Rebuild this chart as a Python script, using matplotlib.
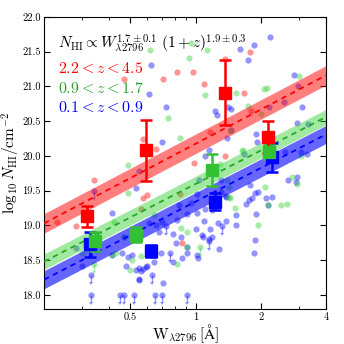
import numpy as np
import matplotlib
matplotlib.use('Agg')
import matplotlib.pyplot as plt
from matplotlib.ticker import FixedLocator, FixedFormatter, NullFormatter

plt.rcParams['font.family'] = 'serif'
plt.rcParams['font.serif'] = ['cmr10', 'DejaVu Serif']
plt.rcParams['mathtext.fontset'] = 'cm'
plt.rcParams['axes.unicode_minus'] = False

########################################################################################################################
# data
########################################################################################################################
red_pts_w = [0.23, 0.28, 0.34, 0.466, 0.71, 0.82, 0.57, 0.66, 0.57, 0.60, 0.56, 0.85, 0.98, 1.36, 1.37, 0.97,
             1.09, 1.67, 1.79, 1.81, 1.17, 0.87]
red_pts_n = [19.05, 18.99, 19.65, 21.10, 21.10, 21.20, 20.24, 20.10, 19.40, 19.44, 19.24, 19.45, 19.90, 20.00, 21.40,
             21.20, 21.04, 20.90, 21.50, 20.64, 20.35, 18.75]

green_pts_w = [0.616, 0.75, 0.95, 1.13, 0.93, 1.11, 1.54, 2.07, 2.14, 3.0, 1.75, 0.85, 1.65, 1.44, 2.0, 1.30, 1.39,
               1.42, 1.44, 0.486, 0.49, 0.43, 0.30, 0.51, 0.50, 0.41, 0.64, 0.86, 0.91, 0.91, 0.56, 0.82, 2.09, 2.77,
               2.93, 2.16, 2.48, 2.64, 1.52, 1.94, 1.43, 1.63, 3.05, 0.47, 0.42]
green_pts_n = [21.52, 20.55, 21.63, 21.52, 21.41, 20.87, 20.90, 20.96, 20.98, 21.15, 20.72, 20.26, 20.08, 20.36, 20.60,
               19.89, 19.65, 19.55, 19.39, 19.87, 19.46, 18.60, 18.61, 18.51, 18.36, 18.58, 19.15, 18.97, 18.90, 18.69,
               18.56, 18.45, 19.55, 19.70, 19.60, 19.30, 19.29, 19.31, 19.25, 19.00, 19.41, 20.07, 20.00, 18.83, 19.05]

blue_pts_w = [0.625, 0.61, 0.73, 0.70, 1.61, 1.86, 2.2, 1.75, 2.84, 2.97, 2.57, 2.17, 3.1, 1.23, 1.41, 1.46, 1.26,
              1.15, 1.10, 1.39, 1.46, 0.55, 1.04, 1.31, 1.01, 1.38, 0.84, 0.95, 0.53, 0.41, 0.47, 0.28, 0.30, 0.49,
              0.48, 0.53, 0.57, 0.59, 0.55, 0.46, 0.61, 0.66, 0.70, 0.82, 0.91, 1.01, 1.09, 1.27, 1.38, 1.0, 1.16,
              0.68, 0.79, 0.86, 1.08, 1.19, 1.28, 0.81, 0.91, 0.87, 1.01, 1.03, 0.69, 0.64, 0.79, 0.55, 0.60, 0.56,
              0.55, 0.71, 1.78, 1.94, 2.66, 2.95, 1.83, 1.77, 1.70, 2.11, 2.24, 1.90, 1.54, 1.54, 1.38, 1.31, 1.10,
              1.19, 1.88, 1.85, 1.07, 1.15, 1.89, 1.93, 1.68, 2.93, 3.3, 3.05, 3.26, 2.59, 2.9, 1.88, 0.51, 0.91,
              0.41, 2.16]
blue_pts_n = [21.31, 20.89, 20.70, 20.20, 21.54, 21.59, 21.71, 21.38, 21.16, 21.00, 20.78, 20.70, 20.70, 20.64, 20.70,
              20.67, 20.59, 20.08, 20.00, 20.26, 20.37, 19.79, 19.66, 19.65, 19.45, 19.42, 19.29, 19.32, 19.54, 19.18,
              18.84, 18.67, 18.41, 18.55, 18.42, 18.36, 18.37, 18.40, 18.23, 18.60, 19.04, 19.00, 19.05, 19.08, 19.16,
              19.18, 19.07, 19.04, 19.07, 18.95, 18.95, 18.90, 18.88, 18.84, 18.84, 18.84, 18.66, 18.75, 18.60, 18.53,
              18.57, 18.53, 18.60, 18.47, 18.47, 18.39, 18.41, 18.34, 18.22, 18.17, 19.58, 19.48, 19.65, 19.70, 19.40,
              19.36, 19.31, 19.40, 19.41, 19.17, 19.15, 19.00, 19.41, 19.48, 19.24, 19.22, 18.79, 18.60, 18.86, 18.81,
              20.32, 20.20, 20.03, 20.47, 20.46, 20.06, 20.03, 20.06, 19.63, 19.46, 18.58, 18.69, 18.58, 19.30]

# upper limits
blue_lim_w = [0.34, 0.33, 0.33, 0.45, 0.47, 0.52, 0.65, 0.70, 0.91, 0.63, 0.73, 1.33, 0.76, 1.15]
blue_lim_n = [19.50, 18.29, 18.00, 18.00, 18.00, 18.00, 18.00, 18.00, 18.00, 18.29, 18.99, 18.99, 18.60, 18.77]
green_lim_w = [0.34, 1.05]
green_lim_n = [18.44, 18.69]

# binned values
red_bin_w = [0.316, 0.59, 1.36, 2.16]
red_bin_n = [19.13, 20.08, 20.91, 20.27]
red_bin_err = [0.15, 0.44, 0.47, 0.23]
green_bin_w = [0.345, 0.533, 1.186, 2.18]
green_bin_n = [18.77, 18.87, 19.80, 20.06]
green_bin_err = [0.13, 0.11, 0.23, 0.10]
blue_bin_w = [0.326, 0.626, 1.225, 2.24]
blue_bin_n = [18.73, 18.63, 19.34, 19.98]
blue_bin_err = [0.18, 0.09, 0.12, 0.21]

# fit lines (end points) and half width of the bands
fit_w = [0.2, 4.0]
red_fit = [19.03, 21.16]
green_fit = [18.48, 20.56]
blue_fit = [18.22, 20.31]
red_band, green_band, blue_band = 0.14, 0.11, 0.13

RED = '#ff0000'
GREEN = '#33c033'
LGREEN = '#30d030'
BLUE = '#0000ff'

########################################################################################################################
fig = plt.figure(figsize=(3.44, 3.44), dpi=100)
ax = fig.add_axes([0.128, 0.102, 0.820, 0.849])
ax.set_xscale('log')

for w, n, c in [(blue_pts_w, blue_pts_n, BLUE), (green_pts_w, green_pts_n, LGREEN), (red_pts_w, red_pts_n, RED)]:
    ax.scatter(w, n, s=20, color=c, alpha=0.42, lw=0, zorder=1)

for w, n, c in [(blue_lim_w, blue_lim_n, BLUE), (green_lim_w, green_lim_n, LGREEN)]:
    ax.errorbar(w, n, yerr=0.1, uplims=True, fmt='o', ms=4.5, mew=0, color=c, alpha=0.42, elinewidth=1,
                capsize=1.5, zorder=1)

for y, hw, c, lc, ba in [(red_fit, red_band, RED, RED, 0.5), (green_fit, green_band, LGREEN, '#22aa22', 0.45),
                         (blue_fit, blue_band, BLUE, BLUE, 0.6)]:
    y = np.array(y)
    ax.fill_between(fit_w, y - hw, y + hw, color=c, alpha=ba, lw=0, zorder=2)
    ax.plot(fit_w, y, ls=(0, (3, 2.5)), lw=1.3, color=lc, zorder=3)

for w, n, e, c in [(blue_bin_w, blue_bin_n, blue_bin_err, BLUE), (green_bin_w, green_bin_n, green_bin_err, GREEN),
                   (red_bin_w, red_bin_n, red_bin_err, RED)]:
    ax.errorbar(w, n, yerr=e, fmt='s', ms=8.5, color=c, elinewidth=1.8, capsize=4, capthick=1.8, zorder=4)

ax.set_xlim(0.2, 4)
ax.set_ylim(17.8, 22.0)
ax.xaxis.set_major_locator(FixedLocator([0.5, 1, 2, 4]))
ax.xaxis.set_major_formatter(FixedFormatter(['0.5', '1', '2', '4']))
ax.xaxis.set_minor_locator(FixedLocator([0.2, 0.3, 0.4, 0.6, 0.7, 0.8, 0.9, 3]))
ax.xaxis.set_minor_formatter(NullFormatter())
ax.set_yticks(np.arange(18.0, 22.01, 0.5))
ax.set_yticklabels(['%.1f' % v for v in np.arange(18.0, 22.01, 0.5)])
ax.tick_params(which='both', direction='in', top=True, right=True, labelsize=7.5, pad=2.5)
ax.tick_params(which='major', length=4)
ax.tick_params(which='minor', length=2)

ax.set_xlabel(r'$\mathrm{W}_{\lambda2796}\,[\mathrm{\AA}]$', fontsize=11, labelpad=0)
ax.set_ylabel(r'$\log_{10} N_{\rm HI}/{\rm cm}^{-2}$', fontsize=11, labelpad=0)

ax.text(0.05, 0.91, r'$N_{\rm HI} \propto W_{\lambda2796}^{1.7\pm0.1}\ (1+z)^{1.9\pm0.3}$', transform=ax.transAxes,
        fontsize=11, va='center')
ax.text(0.05, 0.823, r'$2.2 < z < 4.5$', color=RED, transform=ax.transAxes, fontsize=11.5, va='center')
ax.text(0.05, 0.755, r'$0.9 < z < 1.7$', color='#2ca02c', transform=ax.transAxes, fontsize=11.5, va='center')
ax.text(0.05, 0.69, r'$0.1 < z < 0.9$', color=BLUE, transform=ax.transAxes, fontsize=11.5, va='center')

fig.savefig('out.png', dpi=100)
